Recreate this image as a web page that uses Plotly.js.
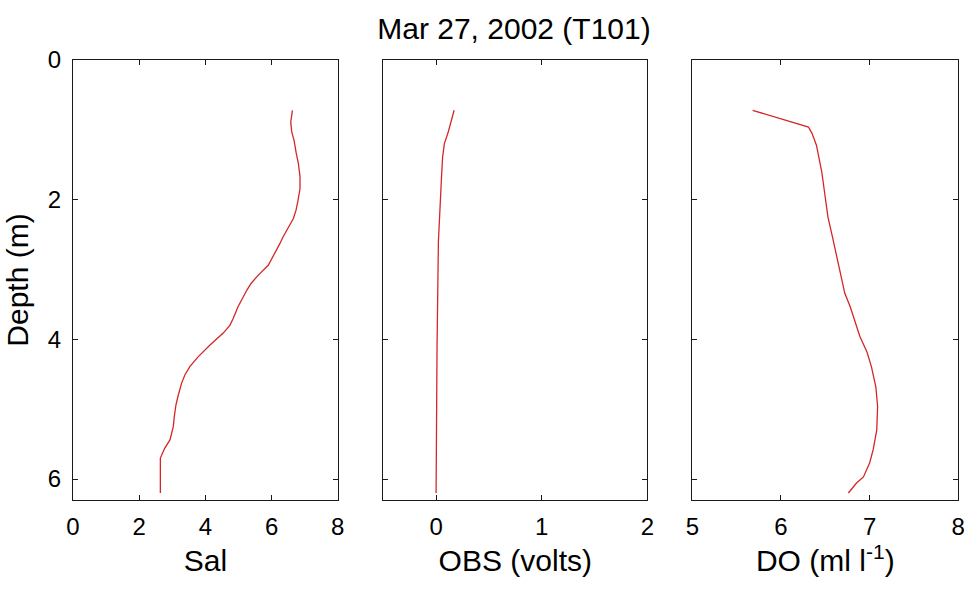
<!DOCTYPE html>
<html>
<head>
<meta charset="utf-8">
<script src="https://cdn.plot.ly/plotly-3.0.1.min.js"></script>
<style>
  html, body { margin: 0; padding: 0; background: #fff; }
  #chart { width: 969px; height: 594px; }
</style>
</head>
<body>
<div id="chart"></div>
<script>
// CTD cast profiles, station T101, 27 March 2002
const salDepth = [0.72, 0.89, 1.03, 1.15, 1.32, 1.48, 1.67, 1.84, 2.01, 2.15, 2.27, 2.39, 2.53, 2.63, 2.77, 2.94, 3.08, 3.20, 3.29, 3.39, 3.53, 3.70, 3.80, 3.91, 4.08, 4.25, 4.39, 4.51, 4.63, 4.80, 4.94, 5.11, 5.25, 5.44, 5.56, 5.70, 6.20];
const sal      = [6.63, 6.58, 6.61, 6.68, 6.74, 6.81, 6.86, 6.86, 6.80, 6.74, 6.66, 6.51, 6.35, 6.25, 6.10, 5.90, 5.60, 5.38, 5.26, 5.14, 4.99, 4.84, 4.74, 4.54, 4.14, 3.78, 3.53, 3.38, 3.28, 3.18, 3.11, 3.06, 3.03, 2.93, 2.77, 2.64, 2.64];

const obsDepth = [0.72, 0.86, 1.03, 1.20, 1.39, 1.63, 2.10, 2.60, 4.11, 6.20];
const obs      = [0.171, 0.147, 0.115, 0.078, 0.062, 0.053, 0.040, 0.022, 0.009, 0.0];

const doDepth  = [0.72, 0.84, 0.96, 1.05, 1.22, 1.60, 1.96, 2.25, 2.53, 2.82, 3.06, 3.34, 3.53, 3.72, 3.96, 4.18, 4.39, 4.68, 4.96, 5.30, 5.58, 5.77, 5.97, 6.06, 6.20];
const doVals   = [5.68, 5.99, 6.31, 6.35, 6.40, 6.46, 6.50, 6.53, 6.58, 6.63, 6.67, 6.72, 6.78, 6.83, 6.89, 6.97, 7.02, 7.07, 7.09, 7.08, 7.04, 7.00, 6.93, 6.85, 6.76];

const depthTicks = [0, 2, 4, 6];
const salTicks = [0, 2, 4, 6, 8];
const obsTicks = [0, 1, 2];
const doTicks  = [5, 6, 7, 8];

const titleText = 'Mar 27, 2002 (T101)';
const salLabel = 'Sal';
const obsLabel = 'OBS (volts)';
const doLabel  = 'DO (ml l<sup>-1</sup>)';
const depthLabel = 'Depth (m)';

const FONT = '"Liberation Sans", Arial, sans-serif';
const lineColor = 'rgb(212,38,38)';
const axisColor = '#1a1a1a';

function trace(x, y, xa, ya) {
  return {
    x: x, y: y, xaxis: xa, yaxis: ya,
    type: 'scatter', mode: 'lines',
    line: { color: lineColor, width: 1.3 },
    hoverinfo: 'x+y', showlegend: false
  };
}

function xAxis(domain, range, ticks, label, anchor) {
  return {
    domain: domain, range: range, anchor: anchor,
    tickvals: ticks, ticktext: ticks.map(String),
    ticks: 'inside', ticklen: 5, tickwidth: 1, tickcolor: axisColor,
    showline: true, linecolor: axisColor, linewidth: 1, mirror: 'allticks',
    showgrid: false, zeroline: false,
    tickfont: { family: FONT, size: 24, color: '#000' },
    ticklabelstandoff: 5,
    title: { text: label, font: { family: FONT, size: 30, color: '#000' }, standoff: 11 },
    fixedrange: true
  };
}

function yAxis(anchor, showLabels, label) {
  const ax = {
    domain: [0, 1], range: [6.3, 0], anchor: anchor,
    tickvals: depthTicks, ticktext: depthTicks.map(String),
    ticks: 'inside', ticklen: 5, tickwidth: 1, tickcolor: axisColor,
    showline: true, linecolor: axisColor, linewidth: 1, mirror: 'allticks',
    showgrid: false, zeroline: false, showticklabels: showLabels,
    tickfont: { family: FONT, size: 24, color: '#000' },
    ticklabelstandoff: 6,
    fixedrange: true
  };
  if (label) {
    ax.title = { text: label, font: { family: FONT, size: 30, color: '#000' }, standoff: 10 };
  }
  return ax;
}

const data = [
  trace(sal, salDepth, 'x', 'y'),
  trace(obs, obsDepth, 'x2', 'y2'),
  trace(doVals, doDepth, 'x3', 'y3')
];

const layout = {
  width: 969, height: 594,
  paper_bgcolor: '#fff', plot_bgcolor: '#fff',
  margin: { l: 73, r: 10, t: 60, b: 94 },
  font: { family: FONT, color: '#000' },
  title: {
    text: titleText,
    font: { family: FONT, size: 30, color: '#000' },
    xref: 'container', yref: 'container',
    x: 514 / 969, xanchor: 'center',
    y: 1 - 28 / 594, yanchor: 'middle'
  },
  xaxis:  xAxis([0, 0.2988], [0, 8], salTicks, salLabel, 'y'),
  xaxis2: xAxis([0.3502, 0.6482], [-0.5, 2], obsTicks, obsLabel, 'y2'),
  xaxis3: xAxis([0.6990, 0.9992], [5, 8], doTicks, doLabel, 'y3'),
  yaxis:  yAxis('x', true, depthLabel),
  yaxis2: yAxis('x2', false, null),
  yaxis3: yAxis('x3', false, null)
};

Plotly.newPlot('chart', data, layout, { displayModeBar: false, staticPlot: true });
</script>
</body>
</html>
